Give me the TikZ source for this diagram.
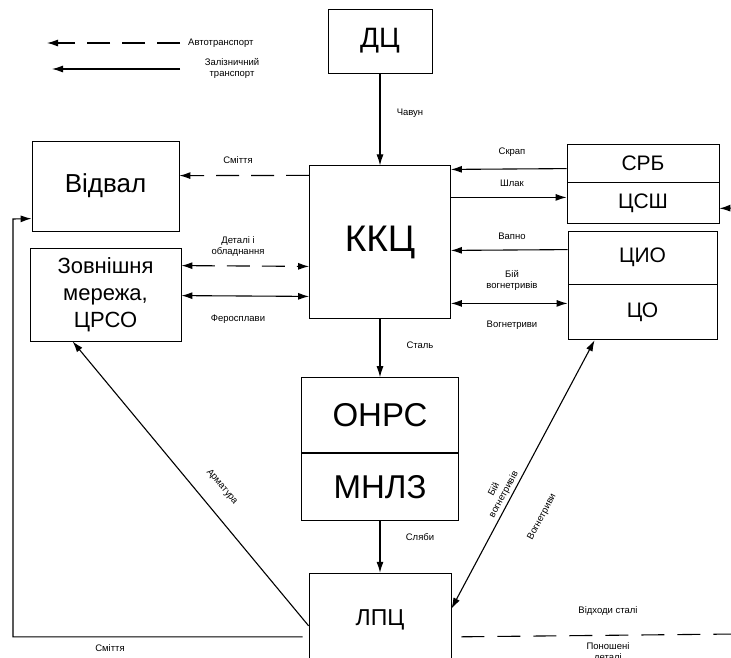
\documentclass[tikz,border=0pt]{standalone}
\usepackage{fontspec}
\setmainfont{Liberation Sans}
\usetikzlibrary{arrows.meta,positioning,calc}
\tikzset{
  shop/.style={draw, line width=0.8pt, inner sep=0pt, align=center},
  lab/.style={font=\fontsize{9.5}{11}\selectfont, align=center, inner sep=1pt},
  rail/.style={->, >={Latex[length=11pt,width=7pt]}, line width=1.1pt},
  road/.style={rail, dash pattern=on 23pt off 12pt},
}

\begin{document}
\begin{tikzpicture}[x=1pt, y=-1pt]
\useasboundingbox (0,0) rectangle (731,657);
% legend
\coordinate (autoend) at (180,43);
\coordinate (autotip) at (47,43);
\coordinate (railend) at (180,69);
\coordinate (railtip) at (52,69);
\node[lab, anchor=west] (autolab) at (187,43) {Автотранспорт};
\node[lab] (raillab) at (232,68) {Залізничний\\транспорт};
\draw[road] (autoend) -- (autotip);
\draw[rail] (railend) -- (railtip);
% central column
\node[shop, minimum width=104pt, minimum height=64pt, font=\fontsize{28}{30}\selectfont] (dc) at (380,41) {ДЦ};
\node[shop, below=92pt of dc, minimum width=141pt, minimum height=153pt, font=\fontsize{37}{40}\selectfont] (kkc) {ККЦ};
\node[shop, below=58pt of kkc, minimum width=157pt, minimum height=75pt, font=\fontsize{33}{36}\selectfont] (onrs) {ОНРС};
\node[shop, below=0pt of onrs, minimum width=157pt, minimum height=67pt, font=\fontsize{33}{36}\selectfont] (mnlz) {МНЛЗ};
\node[shop, below=52pt of mnlz, minimum width=142pt, minimum height=94pt, font=\fontsize{23}{26}\selectfont] (lpc) {ЛПЦ};
% left side
\node[shop, minimum width=147pt, minimum height=90pt, font=\fontsize{26}{30}\selectfont] (vidval) at (105.5,186) {Відвал};
\node[shop, minimum width=151pt, minimum height=93pt, font=\fontsize{22}{27}\selectfont] (zovn) at (105.5,294.5) {Зовнішня\\мережа,\\ЦРСО};
% right side
\node[shop, minimum width=152pt, minimum height=38pt, font=\fontsize{21}{24}\selectfont] (srb) at (643,163) {СРБ};
\node[shop, below=0pt of srb, minimum width=152pt, minimum height=41pt, font=\fontsize{21}{24}\selectfont] (csh) {ЦСШ};
\node[shop, minimum width=149pt, minimum height=53pt, font=\fontsize{21}{24}\selectfont] (cio) at (642.5,257.5) {ЦИО};
\node[shop, below=0pt of cio, minimum width=149pt, minimum height=55pt, font=\fontsize{21}{24}\selectfont] (co) {ЦО};
\coordinate (cshin) at (735,208);
\coordinate (smcorner) at (13,219);
\coordinate (vidkhend) at (735,634);

% flows
\draw[rail] (dc.south) -- (kkc.north);
\node[lab] (chavun) at (410,113) {Чавун};
\draw[road] ($(kkc.north west)+(0,10)$) -- ($(vidval.north east)+(0,35)$);
\node[lab] (smlab) at (238,160) {Сміття};
\draw[road, <->] ($(zovn.north east)+(0,18)$) -- ($(kkc.north west)+(0,101)$);
\node[lab] (detlab) at (238,246) {Деталі і\\обладнання};
\draw[rail, <->] ($(zovn.north east)+(0,48)$) -- ($(kkc.north west)+(0,131)$);
\node[lab] (ferlab) at (238,319) {Феросплави};
\draw[rail] ($(srb.north west)+(0,25)$) -- ($(kkc.north east)+(0,4)$);
\node[lab] (skrlab) at (512,152) {Скрап};
\draw[rail] ($(kkc.north east)+(0,32)$) -- ($(csh.north west)+(0,15)$);
\node[lab] (shllab) at (512,183) {Шлак};
\draw[rail] ($(cio.north west)+(0,19)$) -- ($(kkc.north east)+(0,85)$);
\node[lab] (vaplab) at (512,236) {Вапно};
\draw[rail, <->] ($(kkc.north east)+(0,138)$) -- ($(co.north west)+(0,19)$);
\node[lab] (biylab) at (512,280) {Бій\\вогнетривів};
\node[lab] (voglab) at (512,325) {Вогнетриви};
\draw[rail] (cshin) -- ($(csh.north east)+(0,26)$);
\draw[rail] (kkc.south) -- (onrs.north);
\node[lab] (stallab) at (420,345) {Сталь};
\draw[rail] (mnlz.south) -- (lpc.north);
\node[lab] (slablab) at (420,537) {Сляби};
\draw[rail] ($(lpc.north west)+(0,53)$) -- ($(zovn.south west)+(43,0)$);
\node[lab, rotate=-50] (armlab) at (222,487) {Арматура};
\draw[rail, <->] ($(lpc.north east)+(0,36)$) -- ($(co.south west)+(27,0)$);
\node[lab, rotate=61.7] (bv2lab) at (499,492) {Бій\\вогнетривів};
\node[lab, rotate=61.7] (vg2lab) at (542,517) {Вогнетриви};
\draw[rail] ($(lpc.north west)+(-6,64)$) -| (smcorner) -- ($(vidval.north west)+(0,78)$);
\node[lab] (sm2lab) at (110,648) {Сміття};
\draw[line width=1.1pt, dash pattern=on 23pt off 13pt] ($(lpc.north east)+(10,64)$) -- (vidkhend);
\node[lab] (vidkhlab) at (608,611) {Відходи сталі};
\node[lab] (ponlab) at (608,652) {Поношені\\деталі};
\end{tikzpicture}
\end{document}
